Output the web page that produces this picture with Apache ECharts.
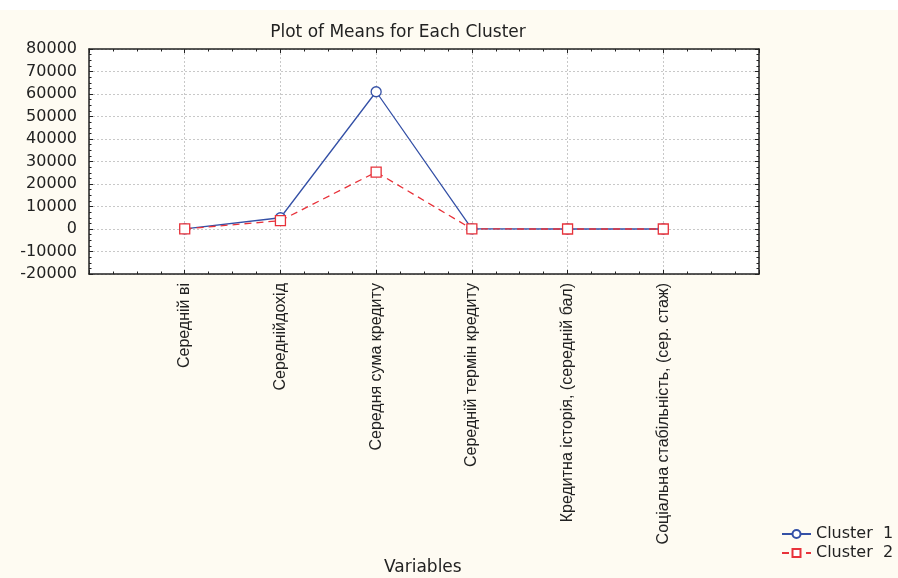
<!DOCTYPE html>
<html>
<head>
<meta charset="utf-8">
<script src="https://cdn.jsdelivr.net/npm/echarts@6/dist/echarts.min.js"></script>
<style>
html,body{margin:0;padding:0;background:#fefbf2;}
#top{position:absolute;left:0;top:0;width:898px;height:10px;background:#ffffff;}
#chart{position:absolute;left:0;top:0;width:898px;height:578px;}
</style>
</head>
<body>
<div id="chart"></div>
<div id="top"></div>
<script>
const categories = ['Середній ві', 'Середнійдохід', 'Середня сума кредиту', 'Середній термін кредиту', 'Кредитна історія, (середній бал)', 'Соціальна стабільність, (сер. стаж)'];
const cluster1 = [40, 5000, 61000, 20, 3, 8];
const cluster2 = [38, 3700, 25300, 18, 3, 7];
const yTicks = [-20000, 80000, 10000];

const toPts = arr => arr.map((v, i) => [i + 1, v]);
const hFont = 'DejaVu Sans';
const axisCol = '#222';

const chart = echarts.init(document.getElementById('chart'), null, {renderer: 'canvas'});
const baseX = {
  type: 'value', min: 0, max: categories.length + 1, interval: 1,
  axisLine: {show: true, onZero: false, lineStyle: {color: axisCol, width: 1.5}},
  axisTick: {show: true, inside: true, length: 4, lineStyle: {color: axisCol}},
  minorTick: {show: true, splitNumber: 4, length: 2.5, lineStyle: {color: axisCol}},
  splitLine: {show: false}
};
const baseY = {
  type: 'value', min: yTicks[0], max: yTicks[1], interval: yTicks[2],
  axisLine: {show: true, onZero: false, lineStyle: {color: axisCol, width: 1.5}},
  axisTick: {show: true, inside: true, length: 4, lineStyle: {color: axisCol}},
  minorTick: {show: true, splitNumber: 4, length: 2.5, lineStyle: {color: axisCol}},
  splitLine: {show: false}
};

chart.setOption({
  backgroundColor: 'transparent',
  animation: false,
  title: {
    text: 'Plot of Means for Each Cluster',
    left: 393, top: 19, textAlign: 'center',
    textStyle: {fontFamily: hFont, fontSize: 17, fontWeight: 'normal', color: '#222'}
  },
  grid: {left: 89, right: 139, top: 49, bottom: 304, show: true, backgroundColor: '#ffffff', borderWidth: 0},
  legend: {
    orient: 'vertical', left: 776, top: 521, itemGap: 3, itemWidth: 29, itemHeight: 10,
    textStyle: {fontFamily: hFont, fontSize: 16, color: '#222', lineHeight: 16},
    data: ['Cluster  1', 'Cluster  2']
  },
  xAxis: [
    Object.assign({}, baseX, {
      position: 'bottom',
      splitLine: {show: true, lineStyle: {color: '#c8c8c8', type: [2, 2], width: 1}},
      axisLabel: {
        show: true, rotate: 90, margin: 9, fontFamily: 'Liberation Sans', fontSize: 16, color: '#222',
        formatter: v => categories[v - 1] || ''
      }
    }),
    Object.assign({}, baseX, {position: 'top', axisLabel: {show: false}})
  ],
  yAxis: [
    Object.assign({}, baseY, {
      position: 'left',
      splitLine: {show: true, lineStyle: {color: '#c8c8c8', type: [2, 2], width: 1}},
      axisLabel: {show: true, margin: 12, fontFamily: hFont, fontSize: 16, color: '#222', formatter: v => String(v)}
    }),
    Object.assign({}, baseY, {position: 'right', axisLabel: {show: false}})
  ],
  graphic: [{
    type: 'text', left: 384, top: 559,
    style: {text: 'Variables', font: '17px "DejaVu Sans"', fill: '#222'}
  }],
  series: [
    {
      name: 'Cluster  1', type: 'line', data: toPts(cluster1),
      symbol: 'circle', symbolSize: 10, showSymbol: true,
      lineStyle: {color: '#3450a6', width: 1.3},
      itemStyle: {color: '#ffffff', borderColor: '#3450a6', borderWidth: 1.3},
      z: 2
    },
    {
      name: 'Cluster  2', type: 'line', data: toPts(cluster2),
      symbol: 'rect', symbolSize: 10, showSymbol: true,
      lineStyle: {color: '#e8323a', width: 1.3, type: [7, 5]},
      itemStyle: {color: '#ffffff', borderColor: '#e8323a', borderWidth: 1.3},
      z: 3
    }
  ]
});
</script>
</body>
</html>
